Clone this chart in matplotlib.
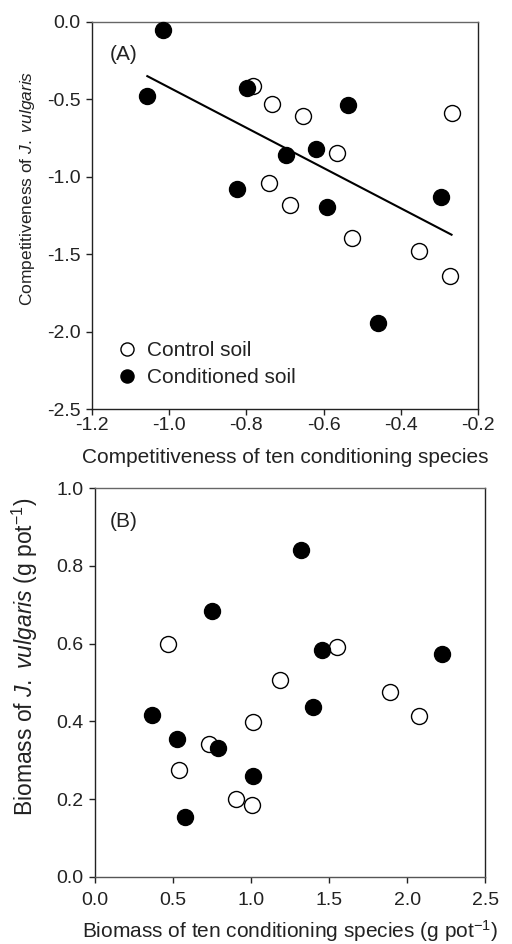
import numpy as np
import matplotlib
matplotlib.use("Agg")
import matplotlib.pyplot as plt

plt.rcParams['font.family'] = ['Liberation Sans', 'DejaVu Sans']
plt.rcParams['mathtext.fontset'] = 'custom'
plt.rcParams['mathtext.rm'] = 'Liberation Sans'
plt.rcParams['mathtext.it'] = 'Liberation Sans:italic'

# panel A: competitiveness
a_ctrl_x = [-0.782, -0.733, -0.654, -0.269, -0.566, -0.740, -0.687, -0.527, -0.353, -0.273]
a_ctrl_y = [-0.411, -0.529, -0.604, -0.591, -0.849, -1.039, -1.185, -1.394, -1.477, -1.641]
a_cond_x = [-1.016, -1.056, -0.799, -0.538, -0.619, -0.698, -0.823, -0.592, -0.295, -0.458]
a_cond_y = [-0.049, -0.480, -0.428, -0.535, -0.819, -0.860, -1.077, -1.194, -1.133, -1.946]

# panel B: biomass (g pot-1)
b_ctrl_x = [0.468, 1.549, 1.186, 1.893, 2.077, 1.011, 0.729, 0.541, 0.904, 1.004]
b_ctrl_y = [0.599, 0.592, 0.506, 0.475, 0.415, 0.399, 0.341, 0.274, 0.200, 0.186]
b_cond_x = [1.318, 0.748, 1.455, 2.222, 1.395, 0.368, 0.526, 0.791, 1.011, 0.579]
b_cond_y = [0.841, 0.685, 0.584, 0.574, 0.436, 0.416, 0.356, 0.331, 0.260, 0.155]

a_xticks = [-1.2, -1.0, -0.8, -0.6, -0.4, -0.2]
a_yticks = [0.0, -0.5, -1.0, -1.5, -2.0, -2.5]
b_xticks = [0.0, 0.5, 1.0, 1.5, 2.0, 2.5]
b_yticks = [0.0, 0.2, 0.4, 0.6, 0.8, 1.0]

TICK_FS = 14
LAB_FS = 15
MS = 11.5
INK = '#222222'

fig = plt.figure(figsize=(5.12, 9.44), dpi=100)
ax1 = fig.add_axes([0.179, 0.5667, 0.755, 0.410])
ax2 = fig.add_axes([0.1855, 0.0710, 0.762, 0.412])


def style(ax, xt, yt, xpad):
    ax.set_xticks(xt)
    ax.set_yticks(yt)
    ax.set_xticklabels([f"{v:.1f}" for v in xt])
    ax.set_yticklabels([f"{v:.1f}" for v in yt])
    ax.tick_params(direction='out', length=4.5, width=1, labelsize=TICK_FS, colors=INK)
    ax.tick_params(axis='x', pad=xpad)
    for s in ax.spines.values():
        s.set_linewidth(1)
        s.set_color(INK)


# panel A
ax1.plot(a_ctrl_x, a_ctrl_y, 'o', ms=MS, mfc='white', mec='black', mew=1,
         label='Control soil', clip_on=False, zorder=3)
ax1.plot(a_cond_x, a_cond_y, 'o', ms=MS, mfc='black', mec='black', mew=1,
         label='Conditioned soil', clip_on=False, zorder=3)
all_x = np.array(a_ctrl_x + a_cond_x)
all_y = np.array(a_ctrl_y + a_cond_y)
k, b = np.polyfit(all_x, all_y, 1)
xx = np.array([all_x.min(), all_x.max()])
ax1.plot(xx, k * xx + b, color='black', lw=1.5, zorder=2)
ax1.set_xlim(-1.2, -0.2)
ax1.set_ylim(-2.5, 0.0)
style(ax1, a_xticks, a_yticks, 1.5)
ax1.spines['top'].set_color('#666666')
ax1.set_xlabel('Competitiveness of ten conditioning species', fontsize=LAB_FS, color=INK, labelpad=9.5)
ax1.set_ylabel(r'Competitiveness of $J.\ vulgaris$', fontsize=12.5, color=INK)
ax1.yaxis.set_label_coords(-0.142, 0.571)
ax1.text(0.047, 0.915, '(A)', transform=ax1.transAxes, fontsize=LAB_FS, color=INK, va='center')
ax1.legend(loc='center left', bbox_to_anchor=(0.064, 0.116), frameon=False, fontsize=LAB_FS,
           handlelength=1.0, handletextpad=0.45, labelspacing=0.38, borderpad=0,
           borderaxespad=0, markerscale=0.82, labelcolor=INK)

# panel B
ax2.plot(b_ctrl_x, b_ctrl_y, 'o', ms=MS, mfc='white', mec='black', mew=1, zorder=3)
ax2.plot(b_cond_x, b_cond_y, 'o', ms=MS, mfc='black', mec='black', mew=1, zorder=3)
ax2.set_xlim(0.0, 2.5)
ax2.set_ylim(0.0, 1.0)
style(ax2, b_xticks, b_yticks, 6)
ax2.spines['top'].set_color('#666666')
ax2.spines['bottom'].set_color('#555555')
ax2.set_xlabel(r'Biomass of ten conditioning species (g pot$^{-1}$)', fontsize=LAB_FS, color=INK, labelpad=7)
ax2.set_ylabel(r'Biomass of $J.\ vulgaris$ (g pot$^{-1}$)', fontsize=16.5, color=INK)
ax2.yaxis.set_label_coords(-0.14, 0.565)
ax2.text(0.038, 0.913, '(B)', transform=ax2.transAxes, fontsize=LAB_FS, color=INK, va='center')

fig.savefig('out.png', dpi=100)
